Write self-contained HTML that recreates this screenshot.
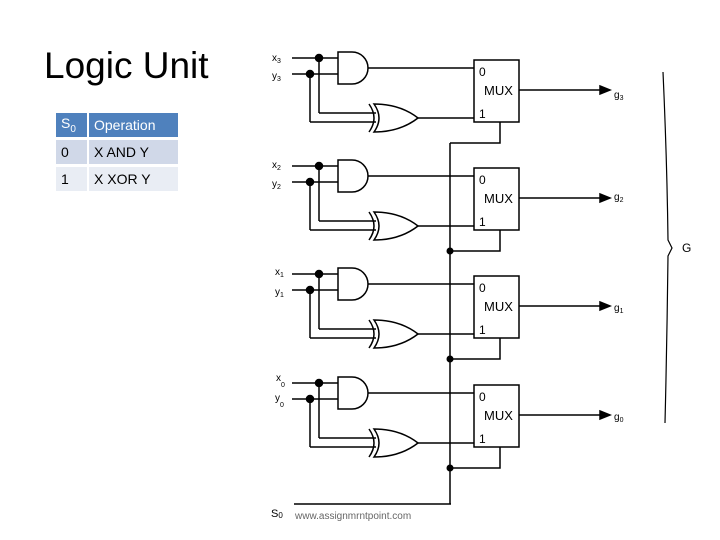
<!DOCTYPE html>
<html><head><style>
body{margin:0;width:720px;height:540px;background:#fff;position:relative;overflow:hidden;font-family:"Liberation Sans",sans-serif}
.t{position:absolute;left:44px;top:45px;font-size:37px;color:#000}
table{position:absolute;left:54px;top:110px;border-collapse:separate;border-spacing:2px 3px;font-size:14px}
td{height:24px;padding:0 0 0 5px}
.h td{background:#4f81bd;color:#fff}
.r1 td{background:#d0d8e8}.r2 td{background:#e9edf4}
</style></head><body>
<div class="t">Logic Unit</div>
<table>
<tr class="h"><td style="width:26px">S<sub style="font-size:10px">0</sub></td><td style="width:84px">Operation</td></tr>
<tr class="r1"><td>0</td><td>X AND Y</td></tr>
<tr class="r2"><td>1</td><td>X XOR Y</td></tr>
</table>
<svg width="720" height="540" style="position:absolute;left:0;top:0" font-family="Liberation Sans,sans-serif">
<defs>
<g id="st" stroke="#000" stroke-width="1.5" fill="none">
<line x1="292" y1="58" x2="338" y2="58"/>
<line x1="292" y1="74" x2="338" y2="74"/>
<path d="M338 52 H352 A16 16 0 0 1 352 84 H338 Z" fill="#fff"/>
<line x1="368" y1="68" x2="474" y2="68"/>
<line x1="319" y1="58" x2="319" y2="113" />
<line x1="319" y1="113" x2="376" y2="113"/>
<line x1="310" y1="74" x2="310" y2="122"/>
<line x1="310" y1="122" x2="376" y2="122"/>
<path d="M374 104 Q400 104 418 118 Q400 132 374 132 Q384 118 374 104 Z" fill="#fff"/>
<path d="M369 104 Q379 118 369 132"/>
<line x1="418" y1="118" x2="474" y2="118"/>
<rect x="474" y="60" width="45" height="62" fill="#fff"/>
<line x1="519" y1="90" x2="602" y2="90"/>
<path d="M600 86 L610 90 L600 94 Z" fill="#000"/>
<circle cx="319" cy="58" r="3.5" fill="#000"/>
<circle cx="310" cy="74" r="3.5" fill="#000"/>
<path d="M500 122 V143 H450"/>
</g>
<g id="tx" font-size="12" fill="#000">
<text x="479" y="76">0</text><text x="484" y="95" font-size="13">MUX</text><text x="479" y="118">1</text>
</g>
</defs>
<use href="#st"/><use href="#tx"/>
<use href="#st" y="108"/><use href="#tx" y="108"/>
<use href="#st" y="216"/><use href="#tx" y="216"/>
<use href="#st" y="325"/><use href="#tx" y="325"/>
<line x1="450" y1="143" x2="450" y2="504" stroke="#000" stroke-width="1.5"/>
<line x1="294" y1="504" x2="451" y2="504" stroke="#000" stroke-width="1.5"/>
<circle cx="450" cy="251" r="3.5"/><circle cx="450" cy="359" r="3.5"/><circle cx="450" cy="468" r="3.5"/>
<g font-size="10" fill="#000">
<text x="272" y="61">x<tspan font-size="7" dy="2">3</tspan></text>
<text x="272" y="79">y<tspan font-size="7" dy="2">3</tspan></text>
<text x="272" y="168">x<tspan font-size="7" dy="2">2</tspan></text>
<text x="272" y="187">y<tspan font-size="7" dy="2">2</tspan></text>
<text x="275" y="275">x<tspan font-size="7" dy="2">1</tspan></text>
<text x="275" y="295">y<tspan font-size="7" dy="2">1</tspan></text>
<text x="276" y="381">x<tspan font-size="7" dy="6">0</tspan></text>
<text x="275" y="401">y<tspan font-size="7" dy="6">0</tspan></text>
<text x="614" y="98">g<tspan font-size="7" dy="2">3</tspan></text>
<text x="614" y="200">g<tspan font-size="7" dy="2">2</tspan></text>
<text x="614" y="311">g<tspan font-size="7" dy="2">1</tspan></text>
<text x="614" y="420">g<tspan font-size="7" dy="2">0</tspan></text>
<text x="271" y="517" font-size="11">S<tspan font-size="8" dy="1">0</tspan></text>
<text x="682" y="252" font-size="12">G</text>
</g>
<text x="295" y="519" font-size="10" fill="#666">www.assignmrntpoint.com</text>
<path d="M663 72 Q667 160 668 240 L672 248 L668 256 Q667 340 665 423" stroke="#000" fill="none" stroke-width="1.2"/>
</svg>
</body></html>
